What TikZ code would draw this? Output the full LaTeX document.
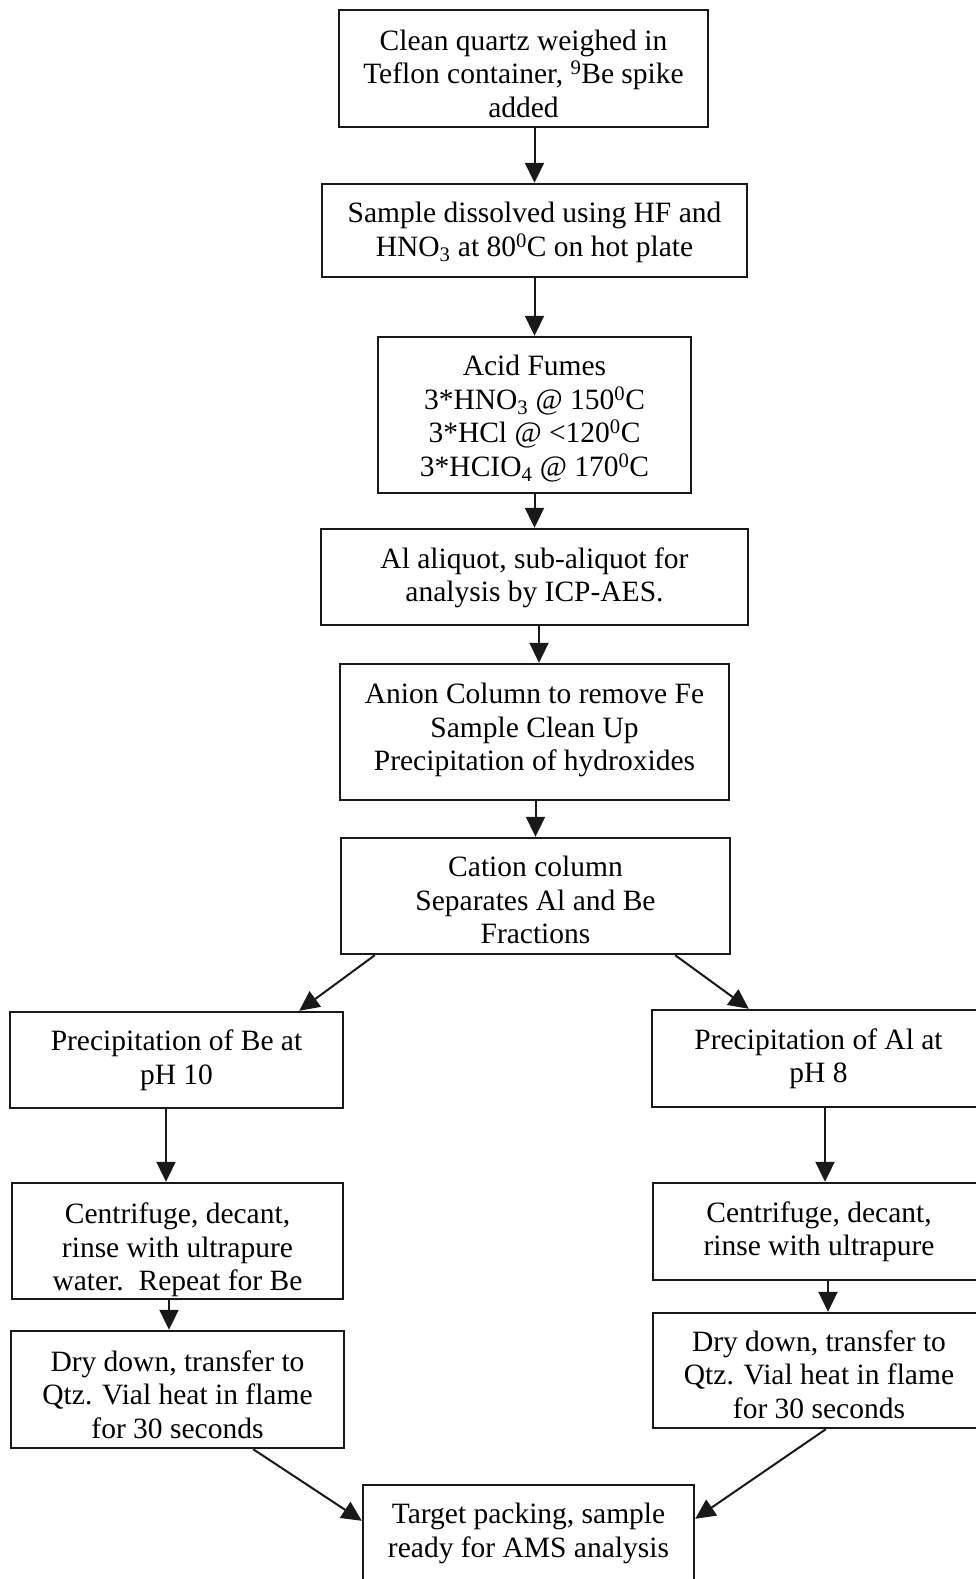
\documentclass[tikz,border=0pt]{standalone}
\usepackage{fontspec}
\setmainfont{Liberation Serif}
\usetikzlibrary{arrows.meta}
\begin{document}
\begin{tikzpicture}[x=1pt,y=-1pt,
  box/.style={draw=black!90, line width=2.4pt, rectangle, inner sep=0pt},
  txt/.style={inner sep=0pt, align=center, font=\fontsize{29.5}{33.5}\selectfont},
  arr/.style={draw=black!90, line width=2pt, -{Triangle[length=20pt,width=19pt]}}]
\useasboundingbox (0,0) rectangle (976,1579);
\clip (0,0) rectangle (976,1579);
\fill[white] (0,0) rectangle (976,1579);

\node[box, minimum width=369pt, minimum height=117pt] (b1) at (523.5,68.5) {};
\node[txt] (b1t) at ([yshift=-5pt]b1.center)
  {Clean quartz weighed in\\Teflon container, \textsuperscript{9}Be spike\\added};
\node[box, minimum width=425pt, minimum height=93pt] (b2) at (534.5,230.5) {};
\node[txt] (b2t) at ([yshift=-2pt]b2.center)
  {Sample dissolved using HF and\\HNO\textsubscript{3} at 80\textsuperscript{0}C on hot plate};
\node[box, minimum width=313pt, minimum height=156pt] (b3) at (534.5,415) {};
\node[txt] (b3t) at ([yshift=-3.5pt]b3.center)
  {Acid Fumes\\3*HNO\textsubscript{3} @ 150\textsuperscript{0}C\\3*HCl @ <120\textsuperscript{0}C\\3*HCIO\textsubscript{4} @ 170\textsuperscript{0}C};
\node[box, minimum width=427pt, minimum height=96pt] (b4) at (534.5,577) {};
\node[txt] (b4t) at ([yshift=-1pt]b4.center)
  {Al aliquot, sub-aliquot for\\analysis by ICP-AES.};
\node[box, minimum width=389pt, minimum height=136pt] (b5) at (534.5,732) {};
\node[txt] (b5t) at ([yshift=2pt]b5.center)
  {Anion Column to remove Fe\\Sample Clean Up\\Precipitation of hydroxides};
\node[box, minimum width=389pt, minimum height=116pt] (b6) at (535.5,896) {};
\node[txt] (b6t) at ([yshift=-4pt]b6.center)
  {Cation column\\Separates Al and Be\\Fractions};
\node[box, minimum width=333pt, minimum height=96pt] (b7) at (176.5,1060) {};
\node[txt] (b7t) at (b7.center)
  {Precipitation of Be at\\pH 10};
\node[box, minimum width=333pt, minimum height=97pt] (b8) at (818.5,1058.5) {};
\node[txt] (b8t) at (b8.center)
  {Precipitation of Al at\\pH 8};
\node[box, minimum width=331pt, minimum height=116pt] (b9) at (177.5,1241) {};
\begin{scope}
  \clip (b9.south west) rectangle (b9.north east);
  \node[txt] (b9t) at ([yshift=-9pt]b9.center)
    {Centrifuge, decant,\\rinse with ultrapure\\water.\ \ Repeat for Be};
\end{scope}
\node[box, minimum width=332pt, minimum height=97pt] (b10) at (819,1231.5) {};
\node[txt] (b10t) at (b10.center)
  {Centrifuge, decant,\\rinse with ultrapure};
\node[box, minimum width=332pt, minimum height=115pt] (b11) at (819,1370.5) {};
\node[txt] (b11t) at ([yshift=-4pt]b11.center)
  {Dry down, transfer to\\Qtz. Vial heat in flame\\for 30 seconds};
\node[box, minimum width=333pt, minimum height=117pt] (b12) at (177.5,1389.5) {};
\node[txt] (b12t) at ([yshift=-5pt]b12.center)
  {Dry down, transfer to\\Qtz. Vial heat in flame\\for 30 seconds};
\node[box, minimum width=331pt, minimum height=105pt] (b13) at (528.5,1537.5) {};
\node[txt] (b13t) at ([yshift=4pt]b13.center)
  {Target packing, sample\\ready for AMS analysis};

\draw[arr] (b1.south -| b2.north) -- (b2.north);
\draw[arr] (b2.south -| b3.north) -- (b3.north);
\draw[arr] (b3.south) -- (b4.north);
\draw[arr] ([xshift=4.5pt]b4.south) -- ([xshift=4.5pt]b5.north);
\draw[arr] (b5.south -| b6.north) -- (b6.north);
\draw[arr] ([xshift=35pt]b6.south west) -- ([xshift=-45pt]b7.north east);
\draw[arr] ([xshift=-56pt]b6.south east) -- ([xshift=98pt]b8.north west);
\draw[arr] ([xshift=-10.5pt]b7.south) -- ([xshift=-11.5pt]b9.north);
\draw[arr] ([xshift=6.5pt]b8.south) -- ([xshift=6pt]b10.north);
\draw[arr] ([xshift=-8.5pt]b9.south) -- ([xshift=-8.5pt]b12.north);
\draw[arr] ([xshift=9pt]b10.south) -- ([xshift=9pt]b11.north);
\draw[arr] ([xshift=-92pt]b12.south east) -- ([yshift=-37pt]b13.north west);
\draw[arr] ([xshift=174pt]b11.south west) -- ([yshift=-35pt]b13.north east);
\end{tikzpicture}
\end{document}
